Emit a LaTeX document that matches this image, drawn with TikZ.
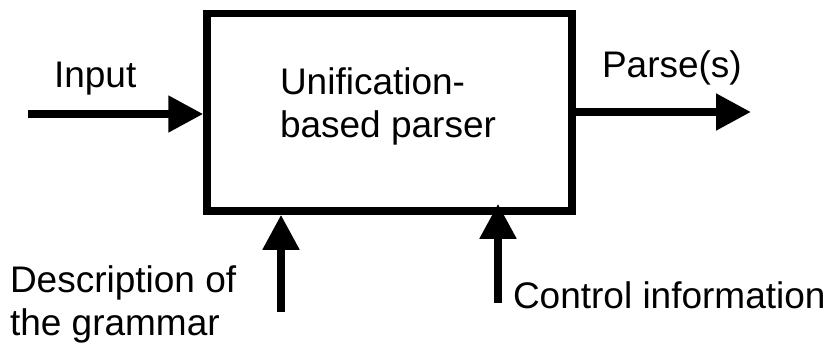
\documentclass[tikz,border=0pt]{standalone}
\usepackage{fontspec}
\setmainfont{Liberation Sans}
\usetikzlibrary{arrows.meta,calc}

\tikzset{
  blockbox/.style={draw=black, line width=7.5pt, fill=none, inner sep=0pt,
    minimum width=365pt, minimum height=197.5pt},
  flow/.style={draw=black, line width=8pt,
    -{Triangle[length=35pt,width=35pt]}},
  label/.style={inner sep=0pt, outer sep=0pt, align=left,
    font=\fontsize{37}{43}\selectfont}
}

\begin{document}
\begin{tikzpicture}[x=1pt, y=-1pt]
  \useasboundingbox (0,0) rectangle (833,343);

  % central processing block (base anchor = baseline of the last line)
  \node[blockbox] (parser) at (389.5,112.25) {};
  \node[label, anchor=base west] (parsertext) at (280,137)
    {Unification-\\based parser};

  % input on the left
  \coordinate (instart) at (28,114);
  \draw[flow] (instart) -- (instart -| parser.west);
  \node[label, anchor=base west] (inlabel) at (54,87) {Input};

  % output on the right
  \coordinate (outend) at (751,112);
  \draw[flow] (outend -| parser.east) -- (outend);
  \node[label, anchor=base west] (outlabel) at (602,77) {Parse(s)};

  % grammar description from below
  \coordinate (gramstart) at (281,312);
  \draw[flow] (gramstart) -- (gramstart |- parser.south);
  \node[label, anchor=base west] (gramlabel) at (10,335)
    {Description of\\the grammar};

  % control information from below
  \coordinate (ctrlstart) at (498,303);
  \coordinate (ctrltip) at ($(ctrlstart |- parser.south)+(0,-11)$);
  \draw[flow] (ctrlstart) -- (ctrltip);
  \node[label, anchor=base west] (ctrllabel) at (513,308)
    {Control information};
\end{tikzpicture}
\end{document}
